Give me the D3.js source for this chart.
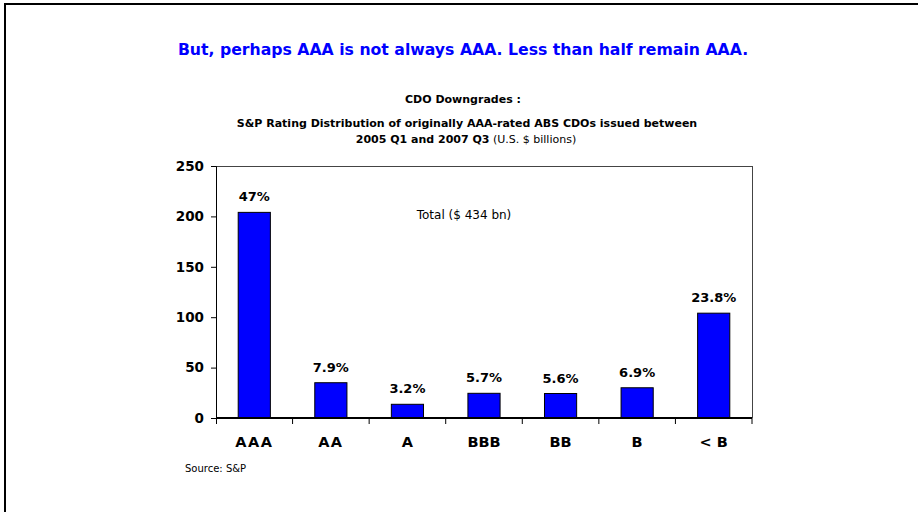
<!doctype html>
<html lang="en">
<head>
  <meta charset="utf-8">
  <title>CDO Downgrades</title>
  <script src="https://d3js.org/d3.v7.min.js"></script>
<style>
  body {
    margin: 0;
    background: #fff;
  }
  text {
    font-family: "DejaVu Sans", Verdana, sans-serif;
  }
</style>
</head>
<body>
<div id="chart"></div>
<script>
  // ratings after downgrade
  var ratings = ["AAA", "AA", "A", "BBB", "BB", "B", "< B"];
  // U.S. $ billions
  var amounts = [204, 35, 13.6, 24.5, 24.3, 30, 104];
  var shares = ["47%", "7.9%", "3.2%", "5.7%", "5.6%", "6.9%", "23.8%"];
  var yTicks = [0, 50, 100, 150, 200, 250];

  var W = 918, H = 512;
  var margin = {top: 166, right: 166, bottom: 94, left: 216},
      width = W - margin.left - margin.right,
      height = H - margin.top - margin.bottom;

  var svg = d3.select("#chart")
    .append("svg")
    .attr("width", W)
    .attr("height", H);

  // slide frame (top and left only)
  svg.append("line").attr("x1", 4).attr("x2", W).attr("y1", 4).attr("y2", 4)
    .attr("stroke", "#000").attr("stroke-width", 2);
  svg.append("line").attr("x1", 5).attr("x2", 5).attr("y1", 3).attr("y2", H)
    .attr("stroke", "#000").attr("stroke-width", 2);

  // headings
  svg.append("text")
    .attr("x", 463).attr("y", 55)
    .attr("text-anchor", "middle")
    .style("font-size", "15.7px").style("font-weight", "bold")
    .attr("fill", "#0000ff")
    .text("But, perhaps AAA is not always AAA. Less than half remain AAA.");

  svg.append("text")
    .attr("x", 463).attr("y", 103)
    .attr("text-anchor", "middle")
    .style("font-size", "11px").style("font-weight", "bold")
    .text("CDO Downgrades :");

  svg.append("text")
    .attr("x", 467).attr("y", 127)
    .attr("text-anchor", "middle")
    .style("font-size", "11px").style("font-weight", "bold")
    .text("S&P Rating Distribution of originally AAA-rated ABS CDOs issued between");

  var sub = svg.append("text")
    .attr("x", 466).attr("y", 143)
    .attr("text-anchor", "middle")
    .style("font-size", "11px");
  sub.append("tspan").style("font-weight", "bold").text("2005 Q1 and 2007 Q3");
  sub.append("tspan").text(" (U.S. $ billions)");

  var g = svg.append("g")
    .attr("transform", "translate(" + margin.left + "," + margin.top + ")");

  var x = d3.scaleBand()
    .domain(ratings)
    .range([0, width])
    .paddingInner(0.58)
    .paddingOuter(0.29);

  var y = d3.scaleLinear()
    .domain([0, 250])
    .range([height, 0]);

  // plot frame top / right
  g.append("line").attr("x1", 0).attr("x2", width).attr("y1", 0.5).attr("y2", 0.5)
    .attr("stroke", "#444");
  g.append("line").attr("x1", width + 0.5).attr("x2", width + 0.5).attr("y1", 0).attr("y2", height)
    .attr("stroke", "#444");

  g.selectAll(".bar")
    .data(amounts)
    .enter()
    .append("rect")
    .attr("class", "bar")
    .attr("x", function (d, i) { return x(ratings[i]); })
    .attr("y", function (d) { return y(d); })
    .attr("width", x.bandwidth())
    .attr("height", function (d) { return height - y(d); })
    .attr("fill", "#0000ff")
    .attr("stroke", "#000")
    .attr("stroke-width", 1);

  g.selectAll(".pct")
    .data(amounts)
    .enter()
    .append("text")
    .attr("class", "pct")
    .attr("x", function (d, i) { return x(ratings[i]) + x.bandwidth() / 2; })
    .attr("y", function (d) { return y(d) - 11; })
    .attr("text-anchor", "middle")
    .style("font-size", "13px").style("font-weight", "bold")
    .text(function (d, i) { return shares[i]; });

  g.append("text")
    .attr("x", 248).attr("y", 53)
    .attr("text-anchor", "middle")
    .style("font-size", "12px")
    .text("Total ($ 434 bn)");

  // y axis
  var yAxis = g.append("g")
    .call(d3.axisLeft(y).tickValues(yTicks).tickSize(5).tickPadding(7));
  yAxis.select(".domain").attr("stroke", "#000");
  yAxis.selectAll("text")
    .style("font-size", "13.5px").style("font-weight", "bold")
    .style("font-family", "\"DejaVu Sans\", Verdana, sans-serif")
    .attr("fill", "#000");

  // x axis: ticks at category boundaries
  var xAxis = g.append("g")
    .attr("transform", "translate(0," + height + ")")
    .call(d3.axisBottom(x).tickSize(0).tickPadding(19));
  xAxis.select(".domain").remove();
  xAxis.append("line")
    .attr("x1", 0).attr("x2", width)
    .attr("stroke", "#000").attr("stroke-width", 2);
  xAxis.selectAll(".sep")
    .data(d3.range(ratings.length + 1))
    .enter()
    .append("line")
    .attr("class", "sep")
    .attr("x1", function (i) { return i * x.step() + (i === 0 ? 0.5 : 0); })
    .attr("x2", function (i) { return i * x.step() + (i === 0 ? 0.5 : 0); })
    .attr("y1", 0).attr("y2", 6)
    .attr("stroke", "#000");
  xAxis.selectAll(".tick text")
    .style("font-size", "14.5px").style("font-weight", "bold")
    .style("font-family", "\"DejaVu Sans\", Verdana, sans-serif")
    .style("letter-spacing", function (d) { return d.indexOf("AA") === 0 ? "1.5px" : null; })
    .attr("fill", "#000");

  svg.append("text")
    .attr("x", 185).attr("y", 472)
    .style("font-size", "10px")
    .text("Source: S&P");
</script>
</body>
</html>
